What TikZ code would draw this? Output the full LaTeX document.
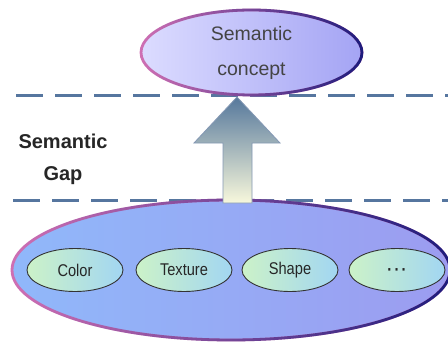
\documentclass[tikz,border=0pt]{standalone}
\usepackage{fontspec}
\setmainfont{Liberation Sans}
\newfontfamily\narrowf[FakeStretch=0.86]{Liberation Sans}
\usetikzlibrary{shapes.geometric,fadings}
\definecolor{dashc}{HTML}{56769F}
\definecolor{rimpink}{HTML}{D070B4}
\definecolor{rimnavy}{HTML}{1C1C7C}
\definecolor{topL}{HTML}{DCDCFF}
\definecolor{topR}{HTML}{A4A4F4}
\definecolor{baseL}{HTML}{90B8FA}
\definecolor{baseR}{HTML}{9C9CF0}
\definecolor{featL}{HTML}{CCF2C8}
\definecolor{featR}{HTML}{A2D6F2}
\definecolor{arrT}{HTML}{56789C}
\definecolor{arrB}{HTML}{F8F8DC}
\definecolor{arrO}{HTML}{8498B4}
\definecolor{txtg}{HTML}{444444}
\tikzset{
  gapline/.style={draw=dashc, line width=3pt, dash pattern=on 27pt off 12pt},
  rimA/.style={draw=rimpink, line width=2.8pt},
  rimB/.style={draw=rimnavy, line width=2.8pt, path fading=west},
  bigell/.style={ellipse, inner sep=0pt, minimum width=438pt, minimum height=140pt, left color=baseL, right color=baseR},
  topell/.style={ellipse, inner sep=0pt, minimum width=221pt, minimum height=85pt, left color=topL, right color=topR,
     text=txtg, align=center, font=\fontsize{19.5}{35}\selectfont},
  feat/.style={ellipse, inner sep=0pt, minimum width=96pt, minimum height=43pt, left color=featL, right color=featR,
     draw=black!80, line width=0.9pt, text=black!85, font=\narrowf\fontsize{17}{20}\selectfont},
  gaplabel/.style={align=center, font=\bfseries\fontsize{20}{32}\selectfont, text=black!85},
}
\begin{document}
\begin{tikzpicture}[x=1pt,y=-1pt]
\useasboundingbox (0,0) rectangle (448,343);
\fill[white] (0,0) rectangle (448,343);
% dashed boundaries
\coordinate (d1a) at (16,95); \coordinate (d1b) at (452,95);
\coordinate (d2a) at (13,200); \coordinate (d2b) at (452,200);
\draw[gapline] (d1a) -- (d1b);
\draw[gapline] (d2a) -- (d2b);
% base ellipse
\node[bigell] (base) at (231,270) {};
\draw[rimA] (base.center) ellipse [x radius=219pt, y radius=70pt];
\draw[rimB] (base.center) ellipse [x radius=219pt, y radius=70pt];
% top ellipse
\node[topell] (top) at (251.5,52.5) {Semantic\\concept};
\draw[rimA] (top.center) ellipse [x radius=110.5pt, y radius=42.5pt];
\draw[rimB] (top.center) ellipse [x radius=110.5pt, y radius=42.5pt];
% block arrow
\coordinate (tip) at (237,97);
\shade[top color=arrT, bottom color=arrB, draw=arrO, line width=0.8pt]
  (tip) -- (280,143) -- (252,143) -- (252,203) -- (223,203) -- (223,143) -- (194,143) -- cycle;
% features
\node[feat] (color) at (75,270) {Color};
\node[feat] (texture) at (184,270) {Texture};
\node[feat] (shape) at (290,270) {Shape};
\node[feat] (more) at (397,270) {\smash{\raisebox{-5.5pt}{\bfseries ·\kern2.2pt·\kern2.2pt·}}};
% gap label
\node[gaplabel] (gap) at (63,159) {Semantic\\Gap};
\end{tikzpicture}
\end{document}
